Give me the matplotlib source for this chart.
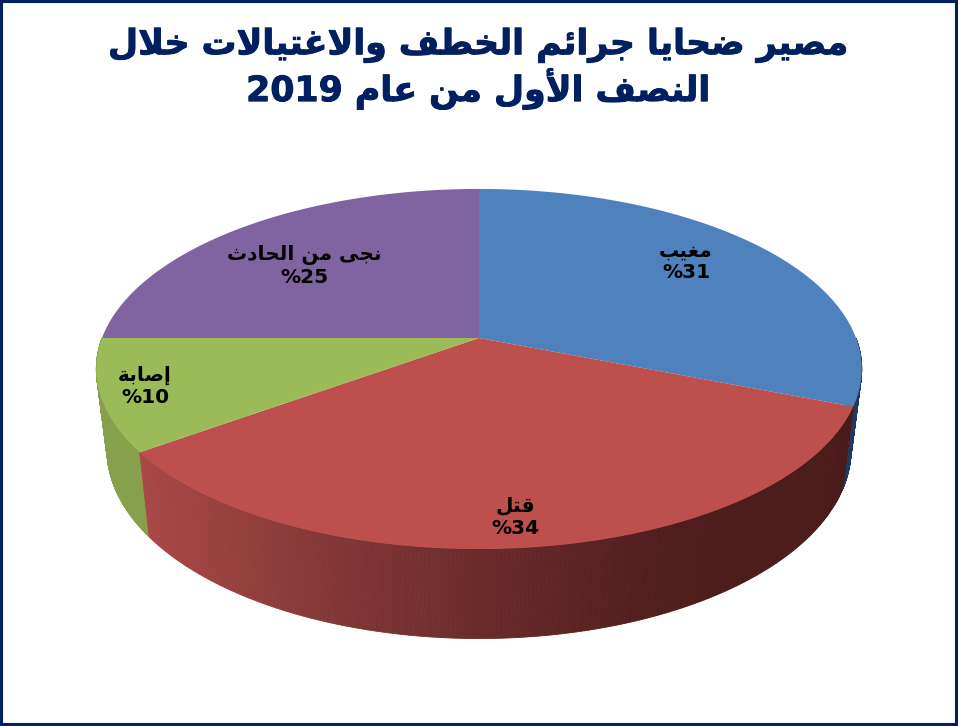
from __future__ import annotations

import re
import unicodedata

import numpy as np
import matplotlib

matplotlib.use("Agg")
import matplotlib.pyplot as plt
import matplotlib.patheffects as pe


title_lines = ["مصير ضحايا جرائم الخطف والاغتيالات خلال", "النصف الأول من عام 2019"]
categories = ["مغيب", "قتل", "إصابة", "نجى من الحادث"]
shares = [31, 34, 10, 25]

face_colors = ["#4f81bd", "#bd4f4c", "#9bbb59", "#8064a2"]
wall_colors = ["#22385f", None, "#86a04b", "#5c4876"]
navy = "#002060"

# label centre on the slice, in pixels (top-left origin)
label_pos = [(686, 262), (515, 517), (145, 386), (304, 266)]

W, H = 958, 726
APEX_X, APEX_Y = 479, 338
RIM_A, RIM_H, PERSP = 377.0, 174.7, 0.172
WALL_DROP, WALL_SX, WALL_SY = 79.0, 0.972, 1.05

NON_JOINING_NEXT = set("اأإآدذرزوؤةى")
LAM_ALEF = {"ا": ("\ufefb", "\ufefc"), "أ": ("\ufef7", "\ufef8"), "إ": ("\ufef9", "\ufefa"), "آ": ("\ufef5", "\ufef6")}


def _forms() -> dict[tuple[str, str], str]:
    table = {}
    for code in range(0xFE80, 0xFEF5):
        parts = unicodedata.decomposition(chr(code)).split()
        if len(parts) == 2:
            table[(chr(int(parts[1], 16)), parts[0])] = chr(code)
    return table


FORMS = _forms()


def _is_arabic(ch: str | None) -> bool:
    return ch is not None and "\u0621" <= ch <= "\u064a"


def shape(text: str) -> str:
    """matplotlib has no Arabic shaping or bidi, so do both by hand."""
    out = []
    i = 0
    while i < len(text):
        ch = text[i]
        if not _is_arabic(ch):
            out.append(ch)
            i += 1
            continue
        prev = text[i - 1] if i else None
        joins_prev = _is_arabic(prev) and prev not in NON_JOINING_NEXT
        nxt = text[i + 1] if i + 1 < len(text) else None
        if ch == "ل" and nxt in LAM_ALEF:
            out.append(LAM_ALEF[nxt][1 if joins_prev else 0])
            i += 2
            continue
        joins_next = _is_arabic(nxt) and ch not in NON_JOINING_NEXT
        if joins_prev and joins_next:
            form = "<medial>"
        elif joins_prev:
            form = "<final>"
        elif joins_next:
            form = "<initial>"
        else:
            form = "<isolated>"
        out.append(FORMS.get((ch, form), ch))
        i += 1
    runs = re.findall(r"[0-9]+|[^0-9]", "".join(out))
    return "".join(reversed(runs))


def project(theta: np.ndarray, drop: float = 0.0, sx: float = 1.0, sy: float = 1.0):
    """theta runs clockwise from the top of the disc; returns pixel x, y."""
    u, v = np.sin(theta), np.cos(theta)
    den = 1 + PERSP * v
    return APEX_X + sx * RIM_A * u / den, APEX_Y + drop - sy * RIM_H * v / den


def red_wall_color(x: float) -> tuple[float, float, float]:
    stops = [135, 300, 479, 680, 860]
    rgb = np.array([[170, 72, 70], [136, 58, 56], [106, 43, 41], [78, 29, 28], [74, 27, 26]]) / 255
    return tuple(np.interp(x, stops, rgb[:, k]) for k in range(3))


fig = plt.figure(figsize=(W / 100, H / 100), dpi=100)
ax = fig.add_axes([0, 0, 1, 1])
ax.set_xlim(0, W)
ax.set_ylim(H, 0)
ax.set_xticks([])
ax.set_yticks([])
for spine in ax.spines.values():
    spine.set_color(navy)
    spine.set_linewidth(4.4)

edges = np.radians(np.cumsum([0] + shares) / sum(shares) * 360)

# side walls first as thin strips, only the near half of the disc shows
for i in range(len(shares)):
    lo, hi = max(edges[i], np.pi / 2), min(edges[i + 1], 3 * np.pi / 2)
    if lo >= hi:
        continue
    th = np.linspace(lo, hi, 241)
    for a, b in zip(th[:-1], th[1:]):
        seg = np.array([a, b])
        x0, y0 = project(seg)
        x1, y1 = project(seg[::-1], WALL_DROP, WALL_SX, WALL_SY)
        color = wall_colors[i] or red_wall_color(x0.mean())
        ax.fill(np.r_[x0, x1], np.r_[y0, y1], color=color, lw=0.6, zorder=1 + (i == 1))

# top faces
for i in range(len(shares)):
    th = np.linspace(edges[i], edges[i + 1], 200)
    x, y = project(th)
    ax.fill(np.r_[APEX_X, x], np.r_[APEX_Y, y], color=face_colors[i], lw=0, zorder=3)

for name, val, (lx, ly) in zip(categories, shares, label_pos):
    ax.text(lx, ly, shape(name) + "\n" + shape(f"{val}%"), ha="center", va="center",
            fontsize=14.5, fontweight="bold", color="black", linespacing=1.2, zorder=4)

for line, y in zip(title_lines, [45, 89]):
    ax.text(478, y, shape(line), ha="center", va="center", fontsize=25,
            fontweight="bold", color=navy, zorder=4,
            path_effects=[pe.withStroke(linewidth=0.7, foreground=navy)])

fig.savefig("out.png", dpi=100)
plt.close(fig)
